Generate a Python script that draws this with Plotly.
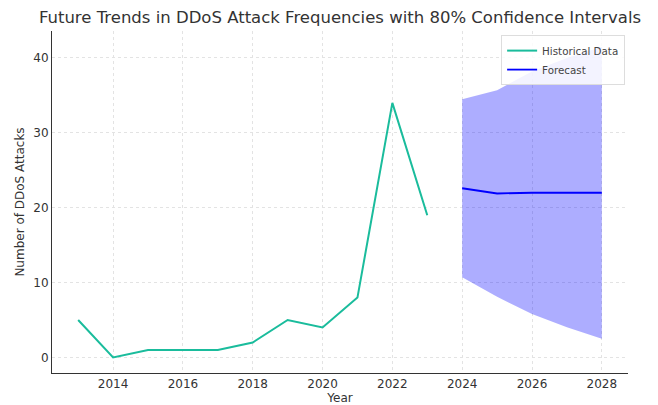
import plotly.graph_objects as go

# Historical annual counts
hist_years = [2013, 2014, 2015, 2016, 2017, 2018, 2019, 2020, 2021, 2022, 2023]
hist_counts = [5, 0, 1, 1, 1, 2, 5, 4, 8, 34, 19]

# Forecast with 80% confidence band
fc_years = [2024, 2025, 2026, 2027, 2028]
fc_mean = [22.6, 21.9, 22.0, 22.0, 22.0]
fc_lower = [10.7, 8.1, 5.8, 4.05, 2.5]
fc_upper = [34.5, 35.7, 38.2, 40.0, 41.5]

x_ticks = [2014, 2016, 2018, 2020, 2022, 2024, 2026, 2028]
y_ticks = [0, 10, 20, 30, 40]

font = "DejaVu Sans"
fig = go.Figure()

# confidence band
fig.add_trace(go.Scatter(
    x=fc_years + fc_years[::-1],
    y=fc_upper + fc_lower[::-1],
    fill="toself", fillcolor="rgba(0,0,255,0.32)",
    line=dict(width=0), mode="lines", hoverinfo="skip", showlegend=False,
))
fig.add_trace(go.Scatter(
    x=hist_years, y=hist_counts, mode="lines", name="Historical Data",
    line=dict(color="#1abc9c", width=2),
))
fig.add_trace(go.Scatter(
    x=fc_years, y=fc_mean, mode="lines", name="Forecast",
    line=dict(color="#0000ff", width=1.8),
))

fig.update_layout(
    width=658, height=405,
    margin=dict(l=52, r=30, t=31, b=32),
    paper_bgcolor="white", plot_bgcolor="white",
    font=dict(family=font, size=12, color="#333333"),
    title=dict(
        text="Future Trends in DDoS Attack Frequencies with 80% Confidence Intervals",
        x=340 / 658, xanchor="center", y=1 - 17 / 405, yanchor="middle",
        font=dict(family=font, size=16.5, color="#333333"),
    ),
    legend=dict(
        x=0.995, xanchor="right", y=0.988, yanchor="top",
        bgcolor="rgba(255,255,255,0.85)", bordercolor="#dddddd", borderwidth=1,
        font=dict(family=font, size=10.3, color="#444444"),
        tracegroupgap=0, itemwidth=30,
    ),
    showlegend=True,
)
fig.update_xaxes(
    range=[2012.25, 2028.75], tickvals=x_ticks, automargin=False,
    showgrid=True, gridcolor="#e3e3e3", griddash="dot", gridwidth=1,
    showline=True, linecolor="#333333", linewidth=1, zeroline=False,
    ticks="", tickfont=dict(size=12),
    title=dict(text="Year", font=dict(family=font, size=12, color="#333333"), standoff=2),
)
fig.update_yaxes(
    range=[-2.075, 43.6], tickvals=y_ticks, automargin=False,
    showgrid=True, gridcolor="#e3e3e3", griddash="dot", gridwidth=1,
    showline=True, linecolor="#333333", linewidth=1, zeroline=False,
    ticks="", tickfont=dict(size=12),
    title=dict(text="Number of DDoS Attacks", font=dict(family=font, size=12, color="#333333"), standoff=6),
)

fig.write_html("out.html")
